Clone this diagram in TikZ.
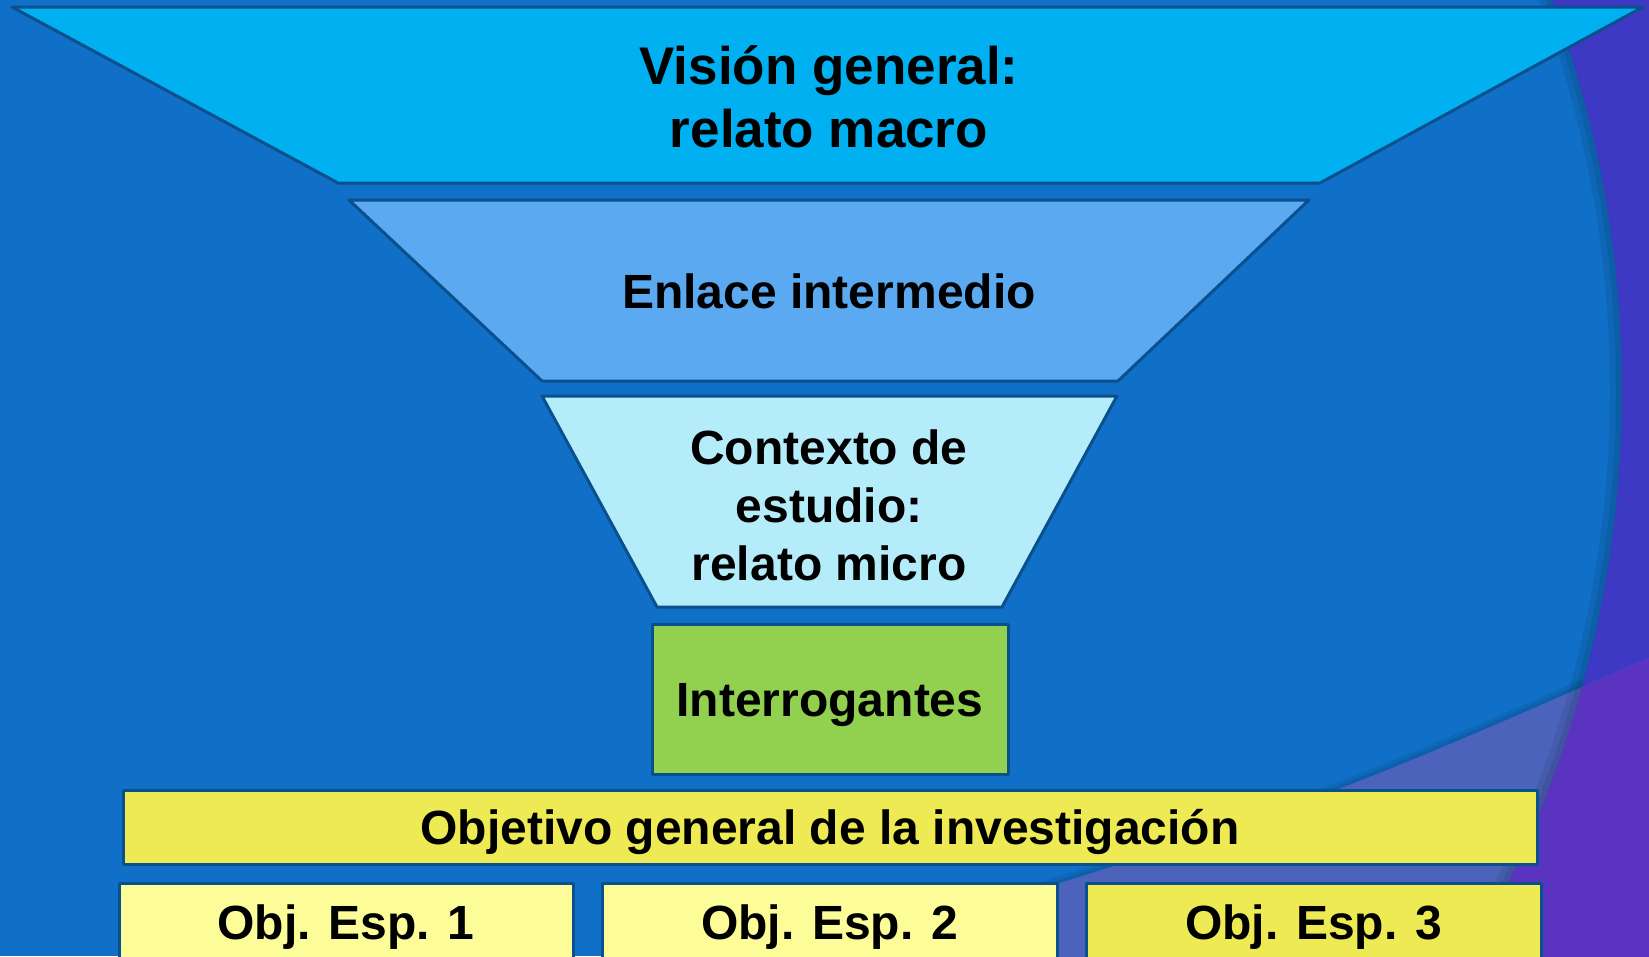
\documentclass[tikz,border=0pt]{standalone}
\usepackage{fontspec}
\setmainfont{Liberation Sans}
\definecolor{bgblue}{RGB}{16,111,198}
\definecolor{purpA}{RGB}{62,57,196}
\definecolor{purpB}{RGB}{75,99,187}
\definecolor{purpC}{RGB}{90,52,192}
\definecolor{edgeblue}{RGB}{10,80,140}
\definecolor{tA}{RGB}{0,176,240}
\definecolor{tB}{RGB}{91,169,240}
\definecolor{tC}{RGB}{180,236,250}
\definecolor{grn}{RGB}{146,208,80}
\definecolor{ylw}{RGB}{238,234,84}
\definecolor{lylw}{RGB}{252,252,152}
\begin{document}
\begin{tikzpicture}[x=1pt,y=-1pt,
  funnel/.style={draw=edgeblue, line width=3pt, line join=round},
  lbl/.style={font=\bfseries\fontsize{48}{58}\selectfont, text=black, align=center},
  rbox/.style={draw=edgeblue, line width=3pt, line join=round, inner sep=0pt, outer sep=0pt, rectangle, lbl, text height=34.4pt, text depth=0pt}]
\useasboundingbox (0,0) rectangle (1649,956);
\clip (0,0) rectangle (1649,956);
% background
\fill[bgblue] (0,0) rectangle (1649,956);
\fill[purpA, even odd rule] (-10,-10) rectangle (1700,1000) (502,390) circle[radius=1120pt];
% shadow above the lower band edge
\begin{scope}
  \clip (502,390) circle[radius=1120pt];
  \draw[black, opacity=0.07, line width=14pt] plot[smooth, tension=0.6] coordinates {(740,975) (1060,883) (1349,785) (1649,658) (1700,636)};
  \draw[black, opacity=0.07, line width=7pt] plot[smooth, tension=0.6] coordinates {(740,975) (1060,883) (1349,785) (1649,658) (1700,636)};
\end{scope}
% lower band
\begin{scope}
  \clip plot[smooth, tension=0.6] coordinates {(740,975) (1060,883) (1349,785) (1649,658) (1700,636)} -- (1700,1000) -- (740,1000) -- cycle;
  \fill[purpB] (0,0) rectangle (1700,1000);
  \fill[purpC, even odd rule] (-10,-10) rectangle (1700,1000) (502,390) circle[radius=1120pt];
\end{scope}
% shadow inside the arc
\begin{scope}
  \clip (502,390) circle[radius=1120pt];
  \draw[black, opacity=0.08, line width=24pt] (502,390) circle[radius=1120pt];
  \draw[black, opacity=0.08, line width=12pt] (502,390) circle[radius=1120pt];
\end{scope}
% funnel
\draw[funnel, fill=tA] (12,7) -- (1643,7) -- (1320,183) -- (338,183) -- cycle;
\draw[funnel, fill=tB] (349,200) -- (1309,200) -- (1118,381) -- (542,381) -- cycle;
\draw[funnel, fill=tC] (542,396) -- (1117,396) -- (1002,607) -- (657,607) -- cycle;
\node[lbl, font=\bfseries\fontsize{53}{63}\selectfont] (vision) at (829,97) {Visión general:\\relato macro};
\node[lbl] (enlace) at (829,291) {Enlace intermedio};
\node[lbl] (contexto) at (829,505) {Contexto de\\estudio:\\relato micro};
% boxes
\node[rbox, fill=grn, minimum width=356pt, minimum height=150pt] (interr) at (830,699) {Interrogantes};
\node[rbox, fill=ylw, minimum width=1414pt, minimum height=74pt] (objgen) at (830,827) {Objetivo general de la investigación};
\node[rbox, fill=lylw, minimum width=454pt, minimum height=78pt] (obj1) at (346,922) {Obj. Esp. 1};
\node[rbox, fill=lylw, minimum width=455pt, minimum height=78pt] (obj2) at (829.5,922) {Obj. Esp. 2};
\node[rbox, fill=ylw, minimum width=455pt, minimum height=78pt] (obj3) at (1313.5,922) {Obj. Esp. 3};
\end{tikzpicture}
\end{document}
